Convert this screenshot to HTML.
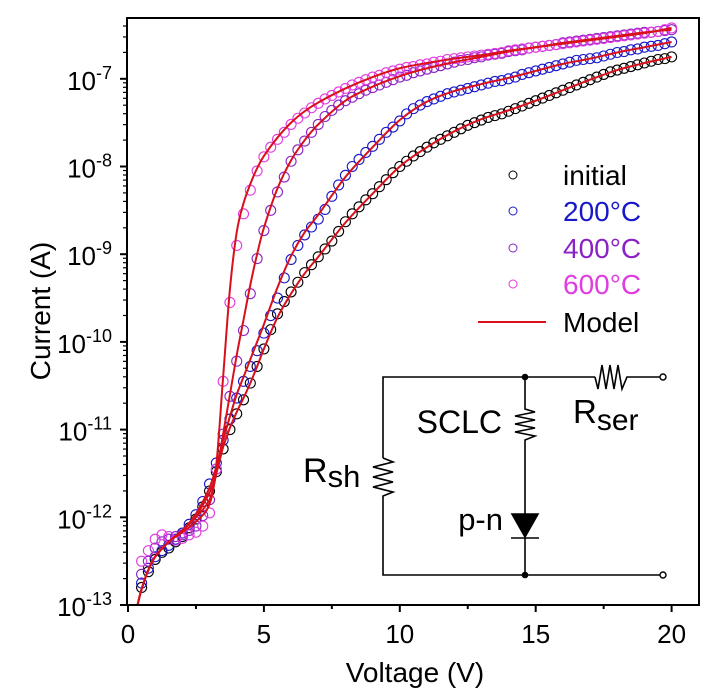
<!DOCTYPE html>
<html><head><meta charset="utf-8"><style>
html,body{margin:0;padding:0;background:#fff}
svg{display:block;font-family:"Liberation Sans",Arial,sans-serif}
</style></head><body>
<svg id="chart" width="711" height="694" viewBox="0 0 711 694">
<defs><clipPath id="plotclip"><rect x="127" y="18" width="572" height="587"/></clipPath></defs>
<g id="data-layer" clip-path="url(#plotclip)"></g>
<g id="model-layer" clip-path="url(#plotclip)"></g>
<rect x="127" y="18" width="572" height="587" fill="none" stroke="#000" stroke-width="2"/>
<g id="axes"></g>
<text x="415" y="682" font-size="28" text-anchor="middle">Voltage (V)</text>
<text transform="translate(50,311) rotate(-90)" font-size="28" text-anchor="middle">Current (A)</text>

<g font-size="28">
 <g><circle cx="513" cy="175" r="4" fill="none" stroke="#000"/><text x="563" y="185" fill="#000">initial</text></g>
 <g><circle cx="513" cy="211" r="4" fill="none" stroke="#1818c8"/><text x="563" y="221" fill="#1818c8">200°C</text></g>
 <g><circle cx="513" cy="248" r="4" fill="none" stroke="#8a22c4"/><text x="563" y="258" fill="#8a22c4">400°C</text></g>
 <g><circle cx="513" cy="284" r="4" fill="none" stroke="#e03ce0"/><text x="563" y="294" fill="#e03ce0">600°C</text></g>
 <g><line x1="478" y1="322" x2="546" y2="322" stroke="#d8101c" stroke-width="2"/><text x="563" y="332" fill="#000">Model</text></g>
</g>

<g stroke="#000" stroke-width="1.6" fill="none">
 <polyline points="595,377 525,377 383,377 383,458"/>
 <polyline points="383,458 393,462 373,467 393,472 373,477 393,482 373,487 393,492 383,496 383,575 663,575"/>
 <polyline points="525,377 525,409 535,412 515,416 535,420 515,424 535,428 515,432 535,436 525,440 525,514"/>
 <polyline points="595,377 598,389 602,365 606,389 610,365 614,389 618,365 622,389 627,377 660,377"/>
 <polygon points="512,514 538,514 525,537" fill="#000"/>
 <line x1="511" y1="538" x2="539" y2="538"/>
 <line x1="525" y1="538" x2="525" y2="575"/>
 <circle cx="525" cy="377" r="2.5" fill="#000"/>
 <circle cx="525" cy="575" r="2.5" fill="#000"/>
 <circle cx="663" cy="377" r="3" fill="#fff" stroke-width="1.4"/>
 <circle cx="663" cy="575" r="3" fill="#fff" stroke-width="1.4"/>
</g>
<text x="502" y="433" font-size="32" text-anchor="end">SCLC</text>
<text x="573" y="423" font-size="33">R<tspan font-size="30" dy="7">ser</tspan></text>
<text x="303" y="482" font-size="34">R<tspan font-size="31" dy="5">sh</tspan></text>
<text x="503" y="530" font-size="31" text-anchor="end">p-n</text>
</svg>
<script>
const voltages = [];
for (let v = 0.5; v <= 20.001; v += 0.25) voltages.push(+v.toFixed(2));
const logInitial = [-12.80,-12.62,-12.48,-12.40,-12.35,-12.28,-12.22,-12.12,-12.02,-11.88,-11.70,-11.48,-11.22,-11.00,-10.82,-10.66,-10.47,-10.28,-10.08,-9.86,-9.68,-9.54,-9.43,-9.32,-9.21,-9.12,-9.03,-8.94,-8.85,-8.74,-8.63,-8.54,-8.46,-8.38,-8.31,-8.23,-8.15,-8.07,-8.00,-7.94,-7.88,-7.83,-7.78,-7.73,-7.69,-7.65,-7.61,-7.57,-7.53,-7.50,-7.47,-7.44,-7.42,-7.40,-7.37,-7.34,-7.31,-7.28,-7.25,-7.22,-7.19,-7.16,-7.13,-7.10,-7.07,-7.04,-7.01,-6.98,-6.95,-6.92,-6.90,-6.88,-6.86,-6.84,-6.82,-6.80,-6.78,-6.77,-6.75];
const log200 = [-12.75,-12.58,-12.45,-12.38,-12.32,-12.25,-12.18,-12.08,-11.97,-11.82,-11.62,-11.38,-11.12,-10.88,-10.64,-10.45,-10.28,-10.10,-9.90,-9.70,-9.50,-9.27,-9.06,-8.90,-8.78,-8.69,-8.60,-8.49,-8.34,-8.21,-8.10,-8.00,-7.92,-7.84,-7.77,-7.69,-7.61,-7.55,-7.48,-7.40,-7.34,-7.30,-7.26,-7.23,-7.20,-7.17,-7.15,-7.13,-7.11,-7.09,-7.07,-7.05,-7.03,-7.02,-7.00,-6.98,-6.95,-6.93,-6.91,-6.89,-6.87,-6.85,-6.83,-6.81,-6.79,-6.78,-6.77,-6.76,-6.74,-6.72,-6.70,-6.69,-6.67,-6.66,-6.64,-6.63,-6.62,-6.60,-6.58];
const log400 = [-12.65,-12.50,-12.35,-12.28,-12.25,-12.22,-12.20,-12.15,-12.10,-11.98,-11.80,-11.45,-11.05,-10.62,-10.22,-9.87,-9.45,-9.05,-8.73,-8.50,-8.29,-8.12,-7.94,-7.81,-7.71,-7.61,-7.52,-7.43,-7.36,-7.30,-7.25,-7.21,-7.17,-7.13,-7.10,-7.07,-7.04,-7.01,-6.98,-6.96,-6.93,-6.91,-6.89,-6.87,-6.85,-6.83,-6.81,-6.79,-6.78,-6.76,-6.75,-6.73,-6.72,-6.71,-6.69,-6.68,-6.67,-6.65,-6.64,-6.63,-6.62,-6.61,-6.59,-6.58,-6.57,-6.56,-6.55,-6.54,-6.53,-6.52,-6.51,-6.50,-6.49,-6.48,-6.47,-6.47,-6.46,-6.45,-6.44];
const log600 = [-12.50,-12.38,-12.25,-12.20,-12.22,-12.26,-12.24,-12.20,-12.17,-12.10,-11.95,-11.45,-10.45,-9.55,-8.90,-8.54,-8.27,-8.05,-7.89,-7.78,-7.69,-7.61,-7.52,-7.45,-7.39,-7.33,-7.28,-7.23,-7.19,-7.15,-7.11,-7.07,-7.04,-7.01,-6.98,-6.96,-6.93,-6.91,-6.89,-6.87,-6.86,-6.84,-6.83,-6.81,-6.80,-6.78,-6.77,-6.76,-6.75,-6.74,-6.73,-6.72,-6.71,-6.70,-6.68,-6.67,-6.66,-6.65,-6.64,-6.63,-6.62,-6.61,-6.60,-6.59,-6.58,-6.57,-6.56,-6.55,-6.54,-6.53,-6.52,-6.51,-6.50,-6.49,-6.48,-6.47,-6.46,-6.44,-6.42];
const modelV = [0.35,0.5,0.75,1,1.5,2,2.5,3,3.25,3.5,3.75,4,4.25,4.5,4.75,5,5.5,6,6.5,7,8,9,10,11,12,13,14,15,16,17,18,19,20];
const modelInitial = [-13,-12.82,-12.6,-12.45,-12.28,-12.15,-11.98,-11.72,-11.5,-11.2,-10.98,-10.8,-10.64,-10.47,-10.28,-10.08,-9.72,-9.45,-9.22,-9.03,-8.64,-8.31,-8.0,-7.78,-7.6,-7.46,-7.36,-7.25,-7.13,-7.01,-6.9,-6.82,-6.75];
const model200 = [-13,-12.82,-12.6,-12.45,-12.28,-12.15,-11.96,-11.66,-11.42,-11.12,-10.85,-10.6,-10.4,-10.2,-10.0,-9.8,-9.38,-9.02,-8.75,-8.55,-8.12,-7.78,-7.47,-7.26,-7.14,-7.06,-6.99,-6.91,-6.83,-6.77,-6.70,-6.64,-6.58];
const model400 = [-13,-12.82,-12.6,-12.45,-12.28,-12.15,-12.0,-11.8,-11.5,-11.05,-10.6,-10.15,-9.75,-9.35,-9.0,-8.7,-8.25,-7.93,-7.7,-7.52,-7.25,-7.09,-6.97,-6.88,-6.81,-6.75,-6.69,-6.64,-6.59,-6.55,-6.51,-6.47,-6.44];
const model600 = [-13,-12.82,-12.6,-12.45,-12.28,-12.17,-12.05,-11.85,-11.4,-10.4,-9.4,-8.75,-8.42,-8.2,-8.02,-7.88,-7.67,-7.5,-7.37,-7.27,-7.11,-6.98,-6.88,-6.82,-6.77,-6.73,-6.68,-6.64,-6.6,-6.56,-6.52,-6.48,-6.42];
const xTicks = [0,5,10,15,20];
const xTickLabels = ["0","5","10","15","20"];
const yDecades = [-13,-12,-11,-10,-9,-8,-7];
const yTickLabels = ["-13","-12","-11","-10","-9","-8","-7"];

const NS = "http://www.w3.org/2000/svg";
const X0 = 128, XS = 27.18, YB = 605, YS = 87.7, YMIN = -13, YTOP = 18;
function xPos(v){ return X0 + v*XS; }
function yPos(lg){ return YB - (lg - YMIN)*YS; }
function mk(tag, attrs, parent){ const e = document.createElementNS(NS, tag); for (const k in attrs) e.setAttribute(k, attrs[k]); parent.appendChild(e); return e; }

const axes = document.getElementById('axes');
xTicks.forEach((t,i)=>{
  const tk = mk('line',{x1:xPos(t),x2:xPos(t),y1:YB,y2:YB+7,stroke:'#000','stroke-width':2},axes);
  
  
  const lb = mk('text',{x:xPos(t),y:YB+38,'font-size':26,'text-anchor':'middle'},axes);
  lb.textContent = xTickLabels[i];
  
  
  if (i < xTicks.length-1){
    const m = mk('line',{x1:xPos(t+2.5),x2:xPos(t+2.5),y1:YB,y2:YB+4,stroke:'#000','stroke-width':2},axes);
    
    
  }
});
yDecades.forEach((d,i)=>{
  const y = yPos(d);
  const tk = mk('line',{x1:127-7,x2:127,y1:y,y2:y,stroke:'#000','stroke-width':2},axes);
  
  
  const lb = mk('text',{x:112,y:y+11,'font-size':26,'text-anchor':'end'},axes);
  
  
  const a = document.createElementNS(NS,'tspan'); a.textContent='10'; lb.appendChild(a);
  const b = document.createElementNS(NS,'tspan'); b.setAttribute('dy','-11'); b.setAttribute('font-size','18'); b.textContent = yTickLabels[i]; lb.appendChild(b);
  for (let k=2;k<=9;k++){
    const ym = yPos(d + Math.log10(k));
    if (ym < YTOP) continue;
    const m = mk('line',{x1:127-4,x2:127,y1:ym,y2:ym,stroke:'#000','stroke-width':1.2},axes);
    
    
  }
});

const dataLayer = document.getElementById('data-layer');
const series = [
  {name:'initial', vals:logInitial, color:'#000000'},
  {name:'200c', vals:log200, color:'#1818c8'},
  {name:'400c', vals:log400, color:'#8a22c4'},
  {name:'600c', vals:log600, color:'#e03ce0'}
];
series.forEach(s=>{
  const g = mk('g',{},dataLayer);
  
  
  s.vals.forEach((lg,i)=>{
    const c = mk('circle',{cx:xPos(voltages[i]).toFixed(2),cy:yPos(lg).toFixed(2),r:5,fill:'none',stroke:s.color,'stroke-width':1.1},g);
    
    
  });
});

const modelLayer = document.getElementById('model-layer');
function smoothPath(xs, ys){
  const p = xs.map((v,i)=>[xPos(v), yPos(ys[i])]);
  let d = 'M'+p[0][0].toFixed(2)+','+p[0][1].toFixed(2);
  for (let i=0;i<p.length-1;i++){
    const p0 = p[Math.max(i-1,0)], p1=p[i], p2=p[i+1], p3=p[Math.min(i+2,p.length-1)];
    const c1 = [p1[0]+(p2[0]-p0[0])/6, p1[1]+(p2[1]-p0[1])/6];
    const c2 = [p2[0]-(p3[0]-p1[0])/6, p2[1]-(p3[1]-p1[1])/6];
    d += ' C'+c1[0].toFixed(2)+','+c1[1].toFixed(2)+' '+c2[0].toFixed(2)+','+c2[1].toFixed(2)+' '+p2[0].toFixed(2)+','+p2[1].toFixed(2);
  }
  return d;
}
[['initial',modelInitial],['200c',model200],['400c',model400],['600c',model600]].forEach(m=>{
  const path = mk('path',{d:smoothPath(modelV,m[1]),fill:'none',stroke:'#d8101c','stroke-width':2},modelLayer);
  
  
});
</script>
</body></html>
